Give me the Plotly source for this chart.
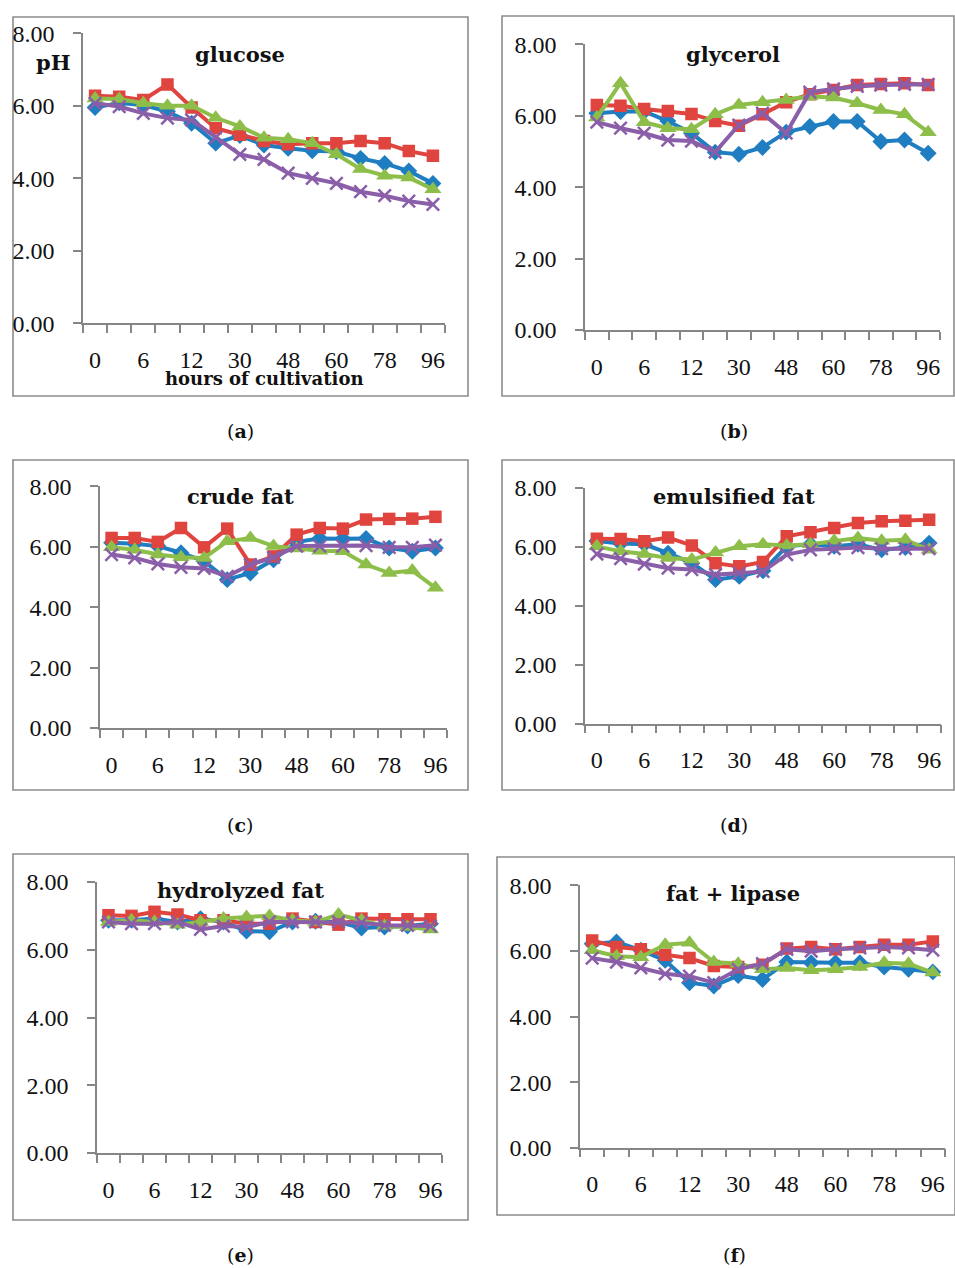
import plotly.graph_objects as go

hours = ['0', '3', '6', '9', '12', '24', '30', '42', '48', '54', '60', '72', '78', '90', '96']
tick_labels = ['0', '', '6', '', '12', '', '30', '', '48', '', '60', '', '78', '', '96']
panel_titles = ['glucose', 'glycerol', 'crude fat', 'emulsified fat', 'hydrolyzed fat', 'fat + lipase']
panel_letters = ['a', 'b', 'c', 'd', 'e', 'f']
series_names = ['Series 1', 'Series 2', 'Series 3', 'Series 4']

glucose_blue = [5.95, 6.08, 6.02, 5.84, 5.52, 4.97, 5.18, 4.92, 4.83, 4.76, 4.74, 4.55, 4.41, 4.20, 3.86]
glucose_red = [6.28, 6.25, 6.16, 6.59, 5.95, 5.38, 5.20, 5.03, 4.94, 4.97, 4.97, 5.03, 4.97, 4.75, 4.62]
glucose_green = [6.20, 6.19, 6.07, 6.00, 6.00, 5.67, 5.43, 5.12, 5.08, 4.97, 4.66, 4.26, 4.07, 4.02, 3.70]
glucose_purple = [6.07, 5.98, 5.79, 5.66, 5.61, 5.12, 4.66, 4.52, 4.14, 4.00, 3.86, 3.63, 3.52, 3.37, 3.28]

glycerol_blue = [6.07, 6.12, 6.12, 5.85, 5.51, 4.98, 4.92, 5.11, 5.54, 5.70, 5.84, 5.84, 5.28, 5.32, 4.95]
glycerol_red = [6.30, 6.28, 6.19, 6.13, 6.05, 5.85, 5.72, 6.04, 6.38, 6.60, 6.72, 6.86, 6.89, 6.91, 6.86]
glycerol_green = [5.95, 6.91, 5.82, 5.65, 5.62, 6.04, 6.30, 6.38, 6.44, 6.54, 6.51, 6.35, 6.16, 6.04, 5.54]
glycerol_purple = [5.82, 5.65, 5.51, 5.32, 5.29, 4.98, 5.74, 6.07, 5.51, 6.66, 6.75, 6.82, 6.86, 6.88, 6.88]

crude_blue = [6.13, 6.10, 6.02, 5.80, 5.52, 4.91, 5.13, 5.57, 6.16, 6.27, 6.26, 6.27, 5.96, 5.85, 5.96]
crude_red = [6.29, 6.29, 6.16, 6.62, 5.98, 6.60, 5.41, 5.68, 6.40, 6.62, 6.60, 6.90, 6.92, 6.93, 6.99]
crude_green = [5.98, 5.90, 5.74, 5.65, 5.63, 6.18, 6.29, 6.02, 5.94, 5.87, 5.85, 5.41, 5.13, 5.21, 4.64]
crude_purple = [5.74, 5.63, 5.43, 5.32, 5.28, 5.02, 5.41, 5.65, 6.02, 6.02, 6.02, 6.04, 5.98, 5.98, 6.05]

emulsified_blue = [6.20, 6.12, 6.09, 5.79, 5.45, 4.89, 5.00, 5.19, 6.02, 6.09, 6.02, 6.09, 5.90, 5.98, 6.13]
emulsified_red = [6.28, 6.27, 6.19, 6.32, 6.05, 5.45, 5.34, 5.49, 6.36, 6.50, 6.64, 6.81, 6.87, 6.89, 6.92]
emulsified_green = [6.02, 5.85, 5.76, 5.62, 5.57, 5.81, 6.02, 6.09, 6.05, 6.09, 6.21, 6.30, 6.21, 6.24, 5.90]
emulsified_purple = [5.76, 5.60, 5.42, 5.28, 5.23, 5.06, 5.11, 5.17, 5.74, 5.90, 5.94, 5.98, 5.94, 5.94, 5.94]

hydrolyzed_blue = [6.87, 6.87, 6.92, 6.82, 6.92, 6.82, 6.55, 6.53, 6.82, 6.84, 6.82, 6.64, 6.67, 6.70, 6.77]
hydrolyzed_red = [7.02, 7.00, 7.12, 7.04, 6.87, 6.87, 6.77, 6.77, 6.92, 6.82, 6.74, 6.92, 6.90, 6.90, 6.90]
hydrolyzed_green = [6.82, 6.87, 6.82, 6.74, 6.82, 6.92, 6.97, 7.00, 6.87, 6.82, 7.04, 6.87, 6.70, 6.67, 6.60]
hydrolyzed_purple = [6.82, 6.77, 6.77, 6.82, 6.60, 6.70, 6.67, 6.82, 6.82, 6.82, 6.82, 6.80, 6.72, 6.72, 6.70]

lipase_blue = [6.22, 6.27, 6.02, 5.71, 5.03, 4.93, 5.25, 5.13, 5.66, 5.64, 5.64, 5.64, 5.51, 5.44, 5.36]
lipase_red = [6.32, 6.12, 6.05, 5.88, 5.78, 5.54, 5.51, 5.58, 6.07, 6.12, 6.05, 6.12, 6.19, 6.19, 6.29]
lipase_green = [6.02, 5.84, 5.81, 6.19, 6.25, 5.66, 5.61, 5.44, 5.48, 5.41, 5.44, 5.51, 5.64, 5.61, 5.34]
lipase_purple = [5.78, 5.66, 5.48, 5.30, 5.23, 5.03, 5.44, 5.61, 6.05, 5.99, 6.05, 6.09, 6.12, 6.09, 6.02]

panel_data = [
    [glucose_blue, glucose_red, glucose_green, glucose_purple],
    [glycerol_blue, glycerol_red, glycerol_green, glycerol_purple],
    [crude_blue, crude_red, crude_green, crude_purple],
    [emulsified_blue, emulsified_red, emulsified_green, emulsified_purple],
    [hydrolyzed_blue, hydrolyzed_red, hydrolyzed_green, hydrolyzed_purple],
    [lipase_blue, lipase_red, lipase_green, lipase_purple],
]

W, H = 955, 1268

# layout geometry in pixels
frames = [(13, 468, 17, 396), (502, 954, 16, 396), (13, 468, 460, 790),
          (502, 954, 460, 790), (13, 468, 854, 1220), (497, 955, 857, 1215)]
plot_areas = [(83, 445, 33.3, 323.3), (585, 940, 44.3, 330), (100, 447, 486.3, 728),
              (585, 941, 488, 723.7), (97, 442, 882, 1153), (580, 945, 885.3, 1147.7)]
title_pos = [(240, 55), (733, 55), (240, 496), (734, 496), (240, 890), (733, 894)]
caption_pos = [(240, 431), (734, 431), (240, 825), (734, 825), (240, 1255), (734, 1255)]

colors = ['#1F7EC1', '#E0443F', '#8EBE4A', '#8A5EA8']
symbols = ['diamond', 'square', 'triangle-up', 'x-thin']
sizes = [13, 12.5, 15, 12.5]

AX = '#868686'
TICKFONT = dict(family='Liberation Serif', size=24, color='#111111')

fig = go.Figure()
shapes = []
annotations = []

for p in range(6):
    xa = 'x' if p == 0 else f'x{p+1}'
    ya = 'y' if p == 0 else f'y{p+1}'
    for s in range(4):
        marker = dict(symbol=symbols[s], size=sizes[s], color=colors[s])
        if symbols[s] == 'x-thin':
            marker['line'] = dict(color=colors[s], width=2.5)
        fig.add_trace(go.Scatter(
            x=hours, y=panel_data[p][s], mode='lines+markers',
            name=series_names[s], showlegend=False,
            line=dict(color=colors[s], width=4),
            marker=marker, xaxis=xa, yaxis=ya))
    l, r, y8, y0 = plot_areas[p]
    xkey = 'xaxis' if p == 0 else f'xaxis{p+1}'
    ykey = 'yaxis' if p == 0 else f'yaxis{p+1}'
    fig.update_layout(**{
        xkey: dict(domain=[l / W, r / W], anchor=ya, type='category',
                   range=[-0.5, len(hours) - 0.5],
                   tickmode='array', tickvals=hours, ticktext=tick_labels,
                   tickson='boundaries', ticks='outside', ticklen=8, tickwidth=1.5,
                   tickcolor=AX, showline=True, linecolor=AX, linewidth=1.5,
                   showgrid=False, zeroline=False, tickfont=TICKFONT, tickangle=0,
                   automargin=False, ticklabelstandoff=14, fixedrange=True),
        ykey: dict(domain=[1 - y0 / H, 1 - y8 / H], anchor=xa, range=[0, 8],
                   tickmode='linear', tick0=0, dtick=2, tickformat='.2f',
                   ticks='outside', ticklen=8, tickwidth=1.5, tickcolor=AX,
                   showline=True, linecolor=AX, linewidth=1.5, showgrid=False,
                   zeroline=False, tickfont=TICKFONT, ticklabelstandoff=14,
                   automargin=False, fixedrange=True),
    })
    fx0, fx1, fy0, fy1 = frames[p]
    shapes.append(dict(type='rect', xref='paper', yref='paper',
                       x0=fx0 / W, x1=fx1 / W, y0=1 - fy1 / H, y1=1 - fy0 / H,
                       line=dict(color='#8C8C8C', width=1.6), fillcolor='rgba(0,0,0,0)',
                       layer='below'))
    tx, ty = title_pos[p]
    annotations.append(dict(text=f'<b>{panel_titles[p]}</b>', xref='paper', yref='paper',
                            x=tx / W, y=1 - ty / H, xanchor='center', yanchor='middle',
                            showarrow=False,
                            font=dict(family='DejaVu Serif', size=21, color='#111111')))
    cx, cy = caption_pos[p]
    annotations.append(dict(text=f'(<b>{panel_letters[p]}</b>)', xref='paper', yref='paper',
                            x=cx / W, y=1 - cy / H, xanchor='center', yanchor='middle',
                            showarrow=False,
                            font=dict(family='DejaVu Serif', size=19, color='#111111')))

annotations.append(dict(text='<b>pH</b>', xref='paper', yref='paper',
                        x=53 / W, y=1 - 62 / H, xanchor='center', yanchor='middle',
                        showarrow=False,
                        font=dict(family='DejaVu Serif', size=21, color='#111111')))
annotations.append(dict(text='<b>hours of cultivation</b>', xref='paper', yref='paper',
                        x=264 / W, y=1 - 379 / H, xanchor='center', yanchor='middle',
                        showarrow=False,
                        font=dict(family='DejaVu Serif', size=18, color='#111111')))

fig.update_layout(template='none', width=W, height=H, margin=dict(l=0, r=0, t=0, b=0),
                  paper_bgcolor='white', plot_bgcolor='white',
                  shapes=shapes, annotations=annotations, showlegend=False)

fig.write_html('out.html')
